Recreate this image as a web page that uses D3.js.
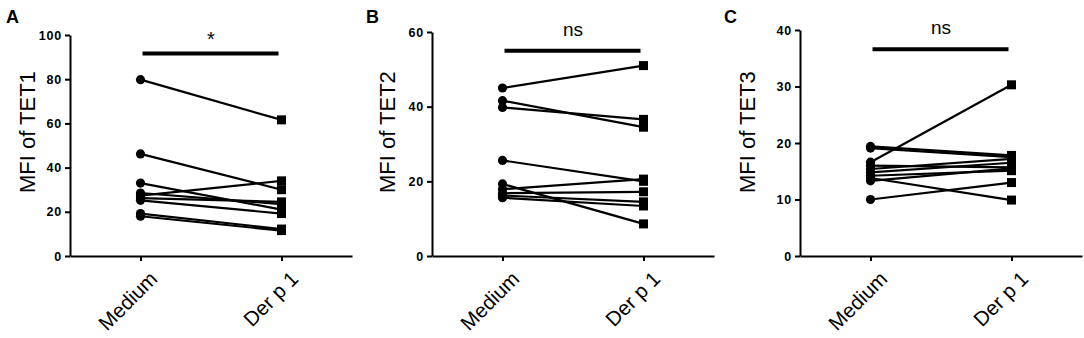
<!DOCTYPE html>
<html>
<head>
<meta charset="utf-8">
<script src="https://cdn.jsdelivr.net/npm/d3@7"></script>
<style>
  body { margin: 0; background: #fff; }
  svg { display: block; }
  .tick text { font-family: "Liberation Sans Narrow", "Arial Narrow", "Liberation Sans", sans-serif; font-weight: bold; font-size: 12.5px; letter-spacing: 0.8px; }
</style>
</head>
<body>
<div id="chart"></div>
<script>
const categories = ["Medium", "Der p 1"];

// TET1
const tet1Medium = [79.8, 46.2, 33.0, 28.5, 27.3, 26.2, 25.2, 19.2, 18.0];
const tet1Derp1  = [61.6, 30.0, 21.0, 23.5, 34.0, 24.5, 19.2, 12.2, 11.5];
// TET2
const tet2Medium = [45.0, 41.6, 39.8, 25.6, 19.3, 17.9, 16.8, 16.2, 15.6];
const tet2Derp1  = [51.0, 34.5, 36.6, 20.0, 8.6, 20.6, 17.2, 14.5, 13.4];
// TET3
const tet3Medium = [19.4, 19.1, 16.6, 16.0, 15.4, 14.8, 14.2, 13.8, 13.3, 10.0];
const tet3Derp1  = [17.8, 17.5, 30.3, 15.7, 17.2, 16.5, 15.1, 9.9, 15.5, 13.0];

const yTicks1 = [0, 20, 40, 60, 80, 100];
const yTicks2 = [0, 20, 40, 60];
const yTicks3 = [0, 10, 20, 30, 40];

const yTitles = ["MFI of TET1", "MFI of TET2", "MFI of TET3"];
const panelLetters = ["A", "B", "C"];
const sigLabels = ["*", "ns", "ns"];
const sigLevels = [91.6, 55.0, 36.6];

const panels = [
    { left: 70, top: 35, medium: tet1Medium, derp: tet1Derp1, ticks: yTicks1, titleX: -35, letterX: 6 },
    { left: 432, top: 32, medium: tet2Medium, derp: tet2Derp1, ticks: yTicks2, titleX: -37, letterX: 366 },
    { left: 800, top: 30, medium: tet3Medium, derp: tet3Derp1, ticks: yTicks3, titleX: -45, letterX: 724 },
];

const svg = d3.select("#chart").append("svg").attr("width", 1084).attr("height", 338);
const bottom = 256;
const plotWidth = 282;

panels.forEach((p, i) => {
    const g = svg.append("g").attr("transform", `translate(${p.left},0)`);
    const x = d3.scalePoint().domain(categories).range([0, plotWidth]).padding(0.5);
    const y = d3.scaleLinear().domain([0, d3.max(p.ticks)]).range([bottom, p.top]);

    // axes
    const yAxis = g.append("g").call(d3.axisLeft(y).tickValues(p.ticks).tickSize(5).tickSizeOuter(0).tickPadding(3));
    const xAxis = g.append("g").attr("transform", `translate(0,${bottom})`)
        .call(d3.axisBottom(x).tickSize(5).tickSizeOuter(0).tickFormat(""));
    [yAxis, xAxis].forEach(a => {
        a.select(".domain").attr("stroke", "#000").attr("stroke-width", 2);
        a.selectAll(".tick line").attr("stroke", "#000").attr("stroke-width", 2);
    });
    yAxis.selectAll(".tick text").attr("fill", "#000");

    // rotated category labels
    categories.forEach(c => {
        g.append("text")
            .attr("transform", `translate(${x(c) + 8},${bottom + 14}) rotate(-45)`)
            .attr("text-anchor", "end")
            .attr("dy", "0.7em")
            .style("font-family", "Liberation Sans, Arial, sans-serif")
            .style("font-size", "20.5px")
            .text(c);
    });

    // y title
    g.append("text")
        .attr("transform", `translate(${p.titleX},193) rotate(-90)`)
        .attr("text-anchor", "start")
        .style("font-family", "Liberation Sans, Arial, sans-serif")
        .style("font-size", "22px")
        .text(yTitles[i]);

    // panel letter
    svg.append("text")
        .attr("x", p.letterX)
        .attr("y", 23)
        .style("font-family", "Liberation Sans, Arial, sans-serif")
        .style("font-weight", "bold")
        .style("font-size", "18px")
        .text(panelLetters[i]);

    // paired lines
    const pairs = p.medium.map((m, k) => [m, p.derp[k]]);
    g.selectAll(".pair").data(pairs).join("line")
        .attr("x1", x(categories[0])).attr("x2", x(categories[1]))
        .attr("y1", d => y(d[0])).attr("y2", d => y(d[1]))
        .attr("stroke", "#000").attr("stroke-width", 2.2);

    g.selectAll(".dot").data(p.medium).join("circle")
        .attr("cx", x(categories[0])).attr("cy", d => y(d)).attr("r", 4.6).attr("fill", "#000");

    g.selectAll(".sq").data(p.derp).join("rect")
        .attr("x", x(categories[1]) - 4.5).attr("y", d => y(d) - 4.5)
        .attr("width", 9).attr("height", 9).attr("fill", "#000");

    // significance bar
    const barY = y(sigLevels[i]);
    g.append("line")
        .attr("x1", x(categories[0]) + 2).attr("x2", x(categories[1]) - 3)
        .attr("y1", barY).attr("y2", barY)
        .attr("stroke", "#000").attr("stroke-width", 4);
    g.append("text")
        .attr("x", (x(categories[0]) + x(categories[1])) / 2)
        .attr("y", sigLabels[i] === "*" ? barY - 8 : barY - 15)
        .attr("text-anchor", "middle")
        .style("font-family", "Liberation Sans Narrow, Arial Narrow, sans-serif")
        .style("font-size", sigLabels[i] === "*" ? "20px" : "19px")
        .text(sigLabels[i]);
});
</script>
</body>
</html>
